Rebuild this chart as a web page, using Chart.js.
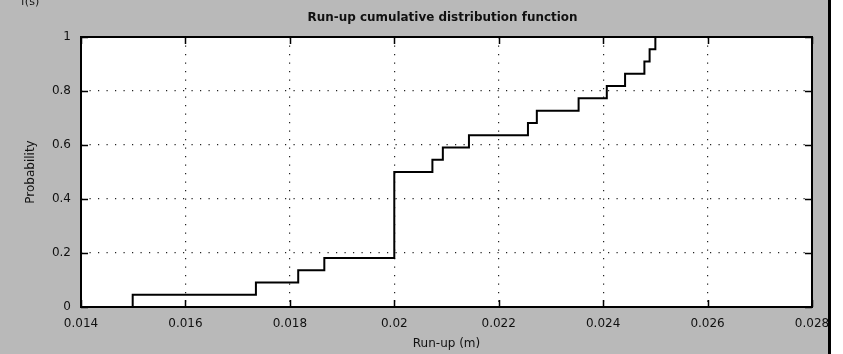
<!DOCTYPE html>
<html><head><meta charset="utf-8">
<script src="https://cdn.jsdelivr.net/npm/chart.js@4/dist/chart.umd.min.js"></script>
<style>html,body{margin:0;padding:0;background:#fff;overflow:hidden}canvas{display:block}</style>
</head><body>
<canvas id="c" width="843" height="354"></canvas>
<script>
const stepX = [0.01499, 0.01499, 0.01735, 0.01816, 0.01866, 0.02000, 0.02073, 0.02093, 0.02143, 0.02256, 0.02273, 0.02353, 0.02407, 0.02442, 0.02479, 0.02489, 0.02500];
const stepP = [0, 0.0455, 0.0909, 0.1364, 0.1818, 0.5000, 0.5455, 0.5909, 0.6364, 0.6818, 0.7273, 0.7727, 0.8182, 0.8636, 0.9091, 0.9545, 1.0000];
const xTicks = [0.014, 0.016, 0.018, 0.020, 0.022, 0.024, 0.026, 0.028];
const xTickLabels = ['0.014', '0.016', '0.018', '0.02', '0.022', '0.024', '0.026', '0.028'];
const yTicks = [0, 0.2, 0.4, 0.6, 0.8, 1];
const yTickLabels = ['0', '0.2', '0.4', '0.6', '0.8', '1'];
const titleText = 'Run-up cumulative distribution function';
const xLabel = 'Run-up (m)';
const yLabel = 'Probability';
const cornerText = 'f(s)';

const BG = '#b9b9b9';
const TXT = '#111';

const frame = {
  id: 'frame',
  beforeDraw(chart) {
    const { ctx, width, height, chartArea: a } = chart;
    ctx.save();
    ctx.fillStyle = BG;
    ctx.fillRect(0, 0, width, height);
    ctx.fillStyle = '#fff';
    ctx.fillRect(a.left, a.top, a.right - a.left, a.bottom - a.top);
    ctx.restore();
  },
  afterDraw(chart) {
    const { ctx, width, height, chartArea: a, scales } = chart;
    ctx.save();
    // inward tick marks
    ctx.strokeStyle = '#000';
    ctx.lineWidth = 1.5;
    const tl = 7;
    ctx.beginPath();
    xTicks.forEach(v => {
      const px = Math.round(scales.x.getPixelForValue(v)) + 0.5;
      ctx.moveTo(px, a.bottom); ctx.lineTo(px, a.bottom - tl);
      ctx.moveTo(px, a.top); ctx.lineTo(px, a.top + tl);
    });
    yTicks.forEach(v => {
      const py = Math.round(scales.y.getPixelForValue(v)) + 0.5;
      ctx.moveTo(a.left, py); ctx.lineTo(a.left + tl, py);
      ctx.moveTo(a.right, py); ctx.lineTo(a.right - tl, py);
    });
    ctx.stroke();
    // plot box
    ctx.lineWidth = 2;
    ctx.strokeRect(a.left, a.top, a.right - a.left, a.bottom - a.top);
    // titles
    ctx.fillStyle = TXT;
    ctx.textAlign = 'center';
    ctx.textBaseline = 'alphabetic';
    ctx.font = 'bold 13px "DejaVu Sans"';
    ctx.fillText(titleText, (a.left + a.right) / 2 - 4, 21, 270);
    ctx.font = '12px "DejaVu Sans"';
    ctx.fillText(xLabel, (a.left + a.right) / 2, 347);
    ctx.save();
    ctx.translate(34, (a.top + a.bottom) / 2);
    ctx.rotate(-Math.PI / 2);
    ctx.fillText(yLabel, 0, 0);
    ctx.restore();
    ctx.textAlign = 'left';
    ctx.font = '11px "DejaVu Sans"';
    ctx.fillText(cornerText, 21, 5);
    // window edge on the right
    ctx.fillStyle = '#000';
    ctx.fillRect(828, 0, 3, height);
    ctx.fillStyle = '#fff';
    ctx.fillRect(831, 0, width - 831, height);
    ctx.restore();
  }
};

new Chart(document.getElementById('c').getContext('2d'), {
  type: 'line',
  data: {
    datasets: [{
      data: stepX.map((x, i) => ({ x: x, y: stepP[i] })),
      stepped: 'before',
      borderColor: '#000',
      borderWidth: 2,
      pointRadius: 0,
      fill: false,
      tension: 0
    }]
  },
  options: {
    responsive: false,
    animation: false,
    events: [],
    layout: { padding: { left: 0, right: 31, top: 37, bottom: 0 } },
    plugins: { legend: { display: false }, tooltip: { enabled: false }, title: { display: false } },
    scales: {
      x: {
        type: 'linear', min: 0.014, max: 0.028,
        afterBuildTicks: s => { s.ticks = xTicks.map(v => ({ value: v })); },
        afterFit: s => { s.height = 47; },
        ticks: { callback: (v, i) => xTickLabels[i], font: { family: 'DejaVu Sans', size: 12 }, color: TXT, padding: 10, maxRotation: 0, autoSkip: false },
        grid: { color: '#222', lineWidth: 1.2, drawTicks: false },
        border: { display: false, dash: [1.2, 7.3] }
      },
      y: {
        type: 'linear', min: 0, max: 1,
        afterBuildTicks: s => { s.ticks = yTicks.map(v => ({ value: v })); },
        afterFit: s => { s.width = 81; },
        ticks: { callback: (v, i) => yTickLabels[i], font: { family: 'DejaVu Sans', size: 12 }, color: TXT, padding: 10, autoSkip: false },
        grid: { color: '#222', lineWidth: 1.2, drawTicks: false },
        border: { display: false, dash: [1.2, 7.3] }
      }
    }
  },
  plugins: [frame]
});
</script>
</body></html>
